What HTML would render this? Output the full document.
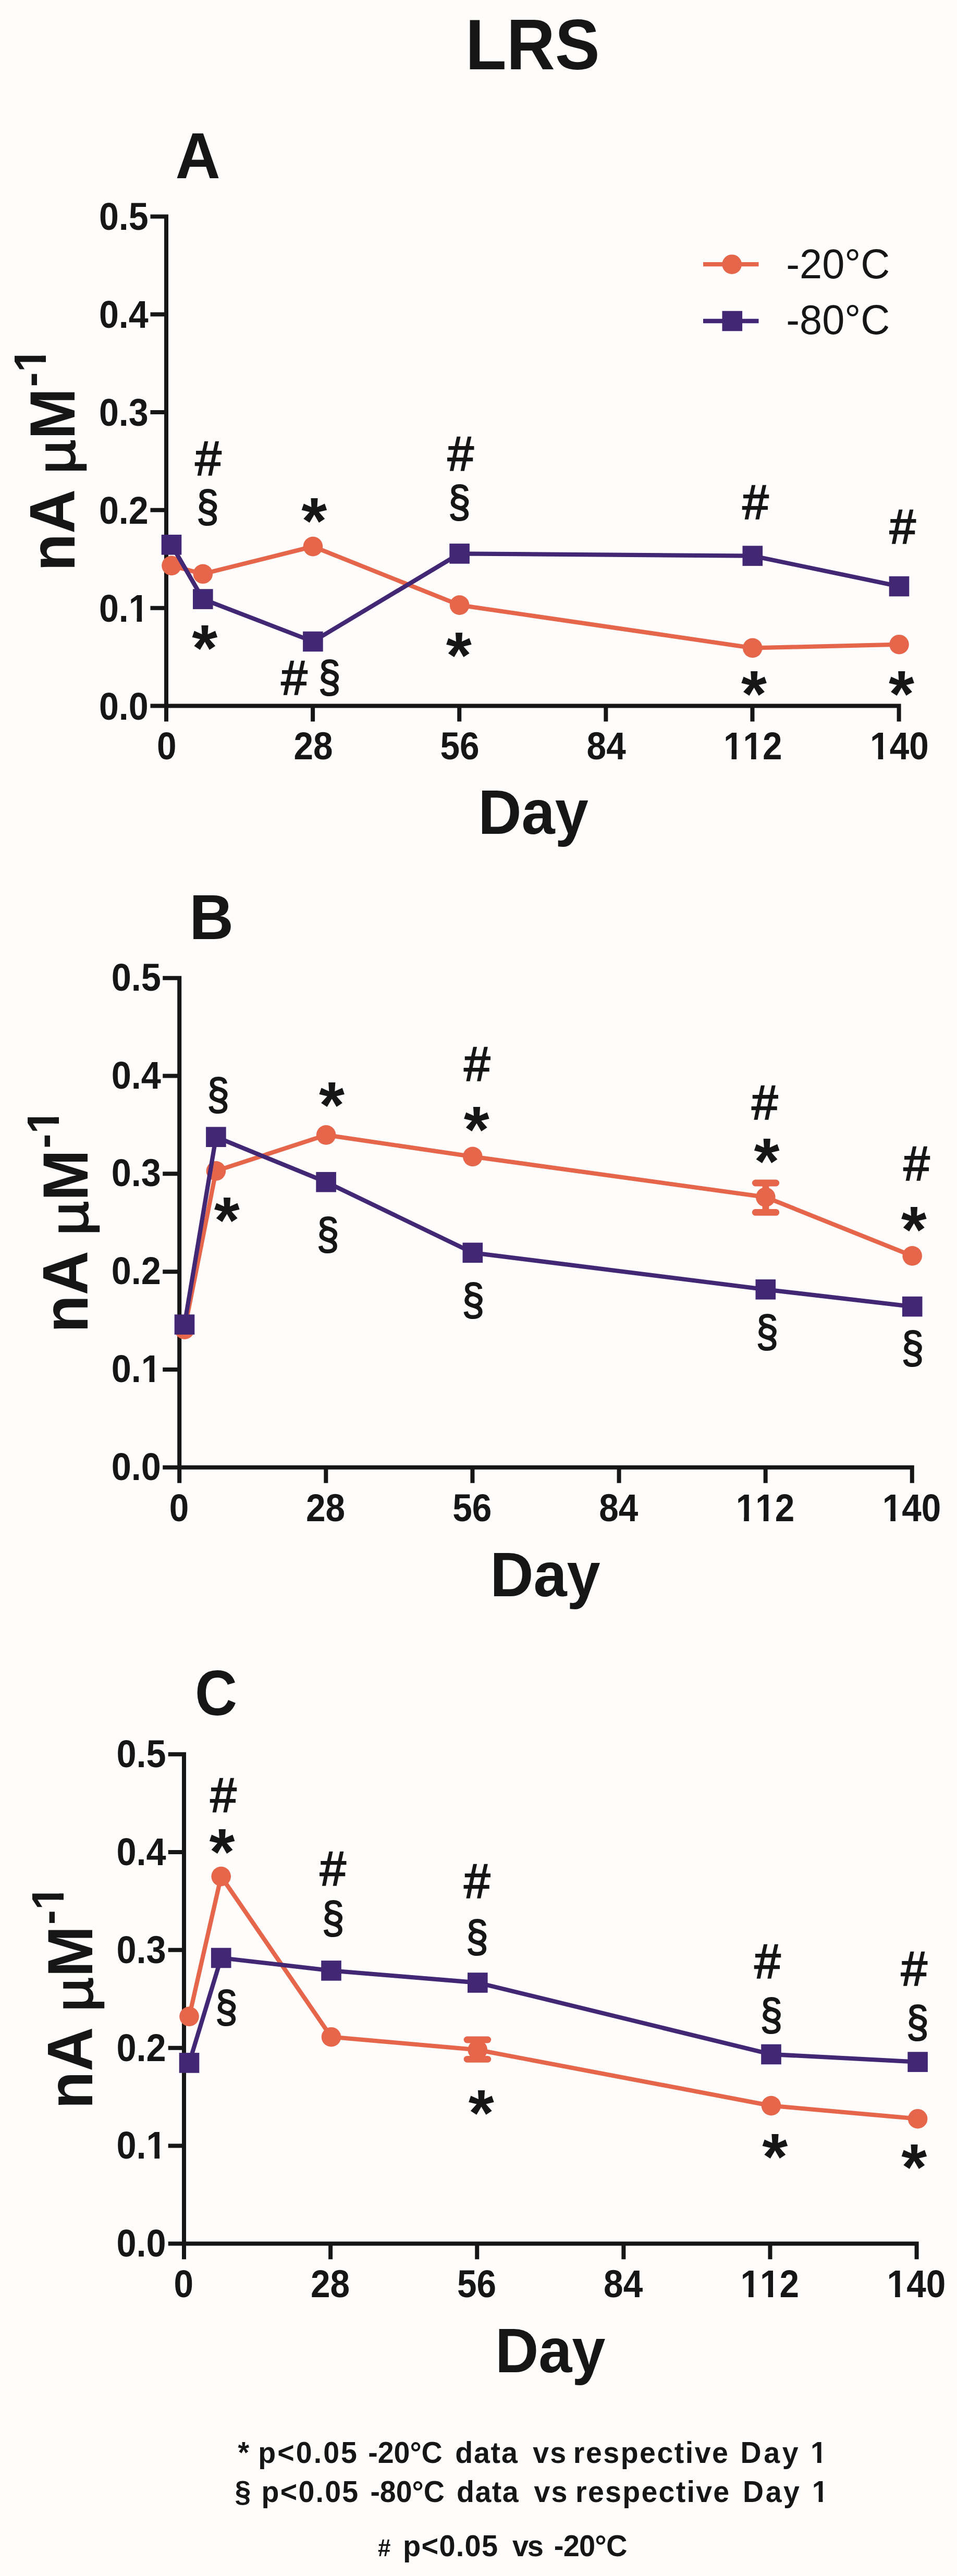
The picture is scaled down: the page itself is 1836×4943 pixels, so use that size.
<!DOCTYPE html>
<html><head><meta charset="utf-8"><title>LRS</title>
<style>html,body{margin:0;padding:0;background:#fefdfb;}svg{display:block;filter:blur(0.65px)}</style>
</head><body>
<svg width="1836" height="4943" viewBox="0 0 1836 4943" font-family='"Liberation Sans", sans-serif' font-weight="bold" text-anchor="middle" fill="#161616">
<rect width="1836" height="4943" fill="#fefdfb"/>
<text transform="translate(1021.8 133) scale(1.0 1.06)" font-size="128.8" >LRS</text>
<path d="M319 411.4V1384.5M288.5 1354.5H1728.6M288.5 1166.68H319M288.5 978.86H319M288.5 791.04H319M288.5 603.22H319M288.5 415.4H319M600.12 1354.5V1384.5M881.24 1354.5V1384.5M1162.36 1354.5V1384.5M1443.48 1354.5V1384.5M1724.6 1354.5V1384.5" stroke="#161616" stroke-width="8" fill="none"/>
<text transform="translate(284.7 1380.5) scale(1.0 1.09)" font-size="68.2" text-anchor="end" >0.0</text>
<text transform="translate(284.7 1192.68) scale(1.0 1.09)" font-size="68.2" text-anchor="end" >0.1</text>
<path d="M248.83 1184.28h13.67v10.41h-13.67zM272.15 1184.28h12.96v10.41h-12.96z" fill="#fefdfb"/>
<text transform="translate(284.7 1004.86) scale(1.0 1.09)" font-size="68.2" text-anchor="end" >0.2</text>
<text transform="translate(284.7 817.04) scale(1.0 1.09)" font-size="68.2" text-anchor="end" >0.3</text>
<text transform="translate(284.7 629.22) scale(1.0 1.09)" font-size="68.2" text-anchor="end" >0.4</text>
<text transform="translate(284.7 441.4) scale(1.0 1.09)" font-size="68.2" text-anchor="end" >0.5</text>
<text transform="translate(319.8 1457) scale(1.0 1.09)" font-size="67.5" style="font-kerning:none">0</text>
<text transform="translate(600.92 1457) scale(1.0 1.09)" font-size="67.5" style="font-kerning:none">28</text>
<text transform="translate(882.04 1457) scale(1.0 1.09)" font-size="67.5" style="font-kerning:none">56</text>
<text transform="translate(1163.16 1457) scale(1.0 1.09)" font-size="67.5" style="font-kerning:none">84</text>
<text transform="translate(1444.28 1457) scale(1.0 1.09)" font-size="67.5" style="font-kerning:none">112</text>
<path d="M1390.01 1448.69h13.53v10.3h-13.53zM1413.09 1448.69h12.82v10.3h-12.82z" fill="#fefdfb"/>
<path d="M1427.54 1448.69h13.53v10.3h-13.53zM1450.62 1448.69h12.82v10.3h-12.82z" fill="#fefdfb"/>
<text transform="translate(1725.4 1457) scale(1.0 1.09)" font-size="67.5" style="font-kerning:none">140</text>
<path d="M1671.13 1448.69h13.53v10.3h-13.53zM1694.21 1448.69h12.82v10.3h-12.82z" fill="#fefdfb"/>
<text transform="translate(1023 1599.5) scale(1.0 1.05)" font-size="115.3" >Day</text>
<text transform="translate(336.5 342.3) scale(1.0 1.035)" font-size="119.5" text-anchor="start" >A</text>
<g transform="translate(143 1096) rotate(-90) scale(1 1.035)" font-size="118" text-anchor="start"><text x="0" y="0">nA</text><text transform="translate(186.5 0) scale(0.97 0.85)" font-weight="normal" stroke="#161616" stroke-width="2.8">µ</text><text x="253" y="0">M</text><text x="353.5" y="-53" font-size="85">-1</text><path d="M385.2 -62.52h16.15v10.62h-16.15zM413.43 -62.52h15.3v10.62h-15.3z" fill="#fefdfb"/></g>
<path d="M329 1085.4L389.3 1101.3L600.4 1048.6L881.6 1161.1L1443.8 1243.4L1725 1236.7" stroke="#e5664b" stroke-width="8.3" fill="none" stroke-linejoin="round"/>
<circle cx="329" cy="1085.4" r="18.8" fill="#e5664b"/>
<circle cx="389.3" cy="1101.3" r="18.8" fill="#e5664b"/>
<circle cx="600.4" cy="1048.6" r="18.8" fill="#e5664b"/>
<circle cx="881.6" cy="1161.1" r="18.8" fill="#e5664b"/>
<circle cx="1443.8" cy="1243.4" r="18.8" fill="#e5664b"/>
<circle cx="1725" cy="1236.7" r="18.8" fill="#e5664b"/>
<path d="M329 1045.3L389.3 1149.6L600.4 1231L881.6 1062.4L1443.8 1066.6L1725 1125.1" stroke="#422874" stroke-width="8.3" fill="none" stroke-linejoin="round"/>
<rect x="309.7" y="1026" width="38.6" height="38.6" fill="#422874"/>
<rect x="370" y="1130.3" width="38.6" height="38.6" fill="#422874"/>
<rect x="581.1" y="1211.7" width="38.6" height="38.6" fill="#422874"/>
<rect x="862.3" y="1043.1" width="38.6" height="38.6" fill="#422874"/>
<rect x="1424.5" y="1047.3" width="38.6" height="38.6" fill="#422874"/>
<rect x="1705.7" y="1105.8" width="38.6" height="38.6" fill="#422874"/>
<text transform="translate(374.42 911.64) scale(1.0 1.02)" font-size="90" font-weight="normal" text-anchor="start" stroke="#161616" stroke-width="2.3">#</text>
<text transform="translate(377.1 1001) scale(0.9 1.0)" font-size="85.3" font-weight="normal" text-anchor="start" stroke="#161616" stroke-width="2.2">§</text>
<text x="578.23" y="1043.33" font-size="126" text-anchor="start" >*</text>
<text x="368.33" y="1286.93" font-size="126" text-anchor="start" >*</text>
<text transform="translate(539.62 1332.74) scale(1.0 1.02)" font-size="90" font-weight="normal" text-anchor="start" stroke="#161616" stroke-width="2.3">#</text>
<text transform="translate(610.7 1328) scale(0.9 1.0)" font-size="85.3" font-weight="normal" text-anchor="start" stroke="#161616" stroke-width="2.2">§</text>
<text transform="translate(858.73 902.64) scale(1.0 1.02)" font-size="90" font-weight="normal" text-anchor="start" stroke="#161616" stroke-width="2.3">#</text>
<text transform="translate(860.1 991.5) scale(0.9 1.0)" font-size="85.3" font-weight="normal" text-anchor="start" stroke="#161616" stroke-width="2.2">§</text>
<text x="855.63" y="1300.63" font-size="126" text-anchor="start" >*</text>
<text transform="translate(1424.62 996.24) scale(1.0 1.02)" font-size="90" font-weight="normal" text-anchor="start" stroke="#161616" stroke-width="2.3">#</text>
<text transform="translate(1706.73 1042.64) scale(1.0 1.02)" font-size="90" font-weight="normal" text-anchor="start" stroke="#161616" stroke-width="2.3">#</text>
<text x="1421.93" y="1375.13" font-size="126" text-anchor="start" >*</text>
<text x="1705.03" y="1375.13" font-size="126" text-anchor="start" >*</text>
<path d="M344.2 1872.7V2845.8M312.2 2815.8H1753.8M312.2 2627.98H344.2M312.2 2440.16H344.2M312.2 2252.34H344.2M312.2 2064.52H344.2M312.2 1876.7H344.2M625.32 2815.8V2845.8M906.44 2815.8V2845.8M1187.56 2815.8V2845.8M1468.68 2815.8V2845.8M1749.8 2815.8V2845.8" stroke="#161616" stroke-width="8" fill="none"/>
<text transform="translate(308.9 2839.8) scale(1.0 1.09)" font-size="68.5" text-anchor="end" >0.0</text>
<text transform="translate(308.9 2651.98) scale(1.0 1.09)" font-size="68.5" text-anchor="end" >0.1</text>
<path d="M272.87 2643.54h13.73v10.45h-13.73zM296.3 2643.54h13.02v10.45h-13.02z" fill="#fefdfb"/>
<text transform="translate(308.9 2464.16) scale(1.0 1.09)" font-size="68.5" text-anchor="end" >0.2</text>
<text transform="translate(308.9 2276.34) scale(1.0 1.09)" font-size="68.5" text-anchor="end" >0.3</text>
<text transform="translate(308.9 2088.52) scale(1.0 1.09)" font-size="68.5" text-anchor="end" >0.4</text>
<text transform="translate(308.9 1900.7) scale(1.0 1.09)" font-size="68.5" text-anchor="end" >0.5</text>
<text transform="translate(343.5 2919.3) scale(1.0 1.09)" font-size="67.5" style="font-kerning:none">0</text>
<text transform="translate(624.62 2919.3) scale(1.0 1.09)" font-size="67.5" style="font-kerning:none">28</text>
<text transform="translate(905.74 2919.3) scale(1.0 1.09)" font-size="67.5" style="font-kerning:none">56</text>
<text transform="translate(1186.86 2919.3) scale(1.0 1.09)" font-size="67.5" style="font-kerning:none">84</text>
<text transform="translate(1467.98 2919.3) scale(1.0 1.09)" font-size="67.5" style="font-kerning:none">112</text>
<path d="M1413.71 2910.99h13.53v10.3h-13.53zM1436.79 2910.99h12.82v10.3h-12.82z" fill="#fefdfb"/>
<path d="M1451.24 2910.99h13.53v10.3h-13.53zM1474.32 2910.99h12.82v10.3h-12.82z" fill="#fefdfb"/>
<text transform="translate(1749.1 2919.3) scale(1.0 1.09)" font-size="67.5" style="font-kerning:none">140</text>
<path d="M1694.83 2910.99h13.53v10.3h-13.53zM1717.91 2910.99h12.82v10.3h-12.82z" fill="#fefdfb"/>
<text transform="translate(1045.9 3062.8) scale(1.0 1.05)" font-size="115.3" >Day</text>
<text transform="translate(363.2 1802.3) scale(1.0 1.035)" font-size="117.5" text-anchor="start" >B</text>
<g transform="translate(168.2 2557.3) rotate(-90) scale(1 1.035)" font-size="118" text-anchor="start"><text x="0" y="0">nA</text><text transform="translate(186.5 0) scale(0.97 0.85)" font-weight="normal" stroke="#161616" stroke-width="2.8">µ</text><text x="253" y="0">M</text><text x="353.5" y="-53" font-size="85">-1</text><path d="M385.2 -62.52h16.15v10.62h-16.15zM413.43 -62.52h15.3v10.62h-15.3z" fill="#fefdfb"/></g>
<path d="M354 2551.2L414.4 2246.9L625.6 2177.9L906.8 2219.4L1468.8 2297.1L1750.2 2409.9" stroke="#e5664b" stroke-width="8.3" fill="none" stroke-linejoin="round"/>
<path d="M1469 2270V2326.4M1449.25 2270H1488.75M1449.25 2326.4H1488.75" stroke="#e5664b" stroke-width="12.8" stroke-linecap="round" fill="none"/>
<circle cx="354" cy="2551.2" r="18.8" fill="#e5664b"/>
<circle cx="414.4" cy="2246.9" r="18.8" fill="#e5664b"/>
<circle cx="625.6" cy="2177.9" r="18.8" fill="#e5664b"/>
<circle cx="906.8" cy="2219.4" r="18.8" fill="#e5664b"/>
<circle cx="1468.8" cy="2297.1" r="18.8" fill="#e5664b"/>
<circle cx="1750.2" cy="2409.9" r="18.8" fill="#e5664b"/>
<path d="M354 2541.6L414.4 2181.7L625.6 2268.2L906.8 2403.8L1468.8 2474.3L1750.2 2507.1" stroke="#422874" stroke-width="8.3" fill="none" stroke-linejoin="round"/>
<rect x="334.7" y="2522.3" width="38.6" height="38.6" fill="#422874"/>
<rect x="395.1" y="2162.4" width="38.6" height="38.6" fill="#422874"/>
<rect x="606.3" y="2248.9" width="38.6" height="38.6" fill="#422874"/>
<rect x="887.5" y="2384.5" width="38.6" height="38.6" fill="#422874"/>
<rect x="1449.5" y="2455" width="38.6" height="38.6" fill="#422874"/>
<rect x="1730.9" y="2487.8" width="38.6" height="38.6" fill="#422874"/>
<text transform="translate(397.2 2128.9) scale(0.9 1.0)" font-size="85.3" font-weight="normal" text-anchor="start" stroke="#161616" stroke-width="2.2">§</text>
<text x="611.93" y="2164.43" font-size="126" text-anchor="start" >*</text>
<text x="410.63" y="2384.73" font-size="126" text-anchor="start" >*</text>
<text transform="translate(607.7 2396.5) scale(0.9 1.0)" font-size="85.3" font-weight="normal" text-anchor="start" stroke="#161616" stroke-width="2.2">§</text>
<text transform="translate(890.23 2074.24) scale(1.0 1.02)" font-size="90" font-weight="normal" text-anchor="start" stroke="#161616" stroke-width="2.3">#</text>
<text x="889.83" y="2210.73" font-size="126" text-anchor="start" >*</text>
<text transform="translate(886.4 2522.6) scale(0.9 1.0)" font-size="85.3" font-weight="normal" text-anchor="start" stroke="#161616" stroke-width="2.2">§</text>
<text transform="translate(1442.33 2147.74) scale(1.0 1.02)" font-size="90" font-weight="normal" text-anchor="start" stroke="#161616" stroke-width="2.3">#</text>
<text x="1446.43" y="2272.33" font-size="126" text-anchor="start" >*</text>
<text transform="translate(1733.43 2264.74) scale(1.0 1.02)" font-size="90" font-weight="normal" text-anchor="start" stroke="#161616" stroke-width="2.3">#</text>
<text x="1728.83" y="2402.93" font-size="126" text-anchor="start" >*</text>
<text transform="translate(1450.6 2583.5) scale(0.9 1.0)" font-size="85.3" font-weight="normal" text-anchor="start" stroke="#161616" stroke-width="2.2">§</text>
<text transform="translate(1729.6 2614.9) scale(0.9 1.0)" font-size="85.3" font-weight="normal" text-anchor="start" stroke="#161616" stroke-width="2.2">§</text>
<path d="M353 3362.2V4335.3M322.7 4305.3H1762.6M322.7 4117.48H353M322.7 3929.66H353M322.7 3741.84H353M322.7 3554.02H353M322.7 3366.2H353M634.12 4305.3V4335.3M915.24 4305.3V4335.3M1196.36 4305.3V4335.3M1477.48 4305.3V4335.3M1758.6 4305.3V4335.3" stroke="#161616" stroke-width="8" fill="none"/>
<text transform="translate(318.7 4330.3) scale(1.0 1.09)" font-size="68.5" text-anchor="end" >0.0</text>
<text transform="translate(318.7 4142.48) scale(1.0 1.09)" font-size="68.5" text-anchor="end" >0.1</text>
<path d="M282.67 4134.04h13.73v10.45h-13.73zM306.1 4134.04h13.02v10.45h-13.02z" fill="#fefdfb"/>
<text transform="translate(318.7 3954.66) scale(1.0 1.09)" font-size="68.5" text-anchor="end" >0.2</text>
<text transform="translate(318.7 3766.84) scale(1.0 1.09)" font-size="68.5" text-anchor="end" >0.3</text>
<text transform="translate(318.7 3579.02) scale(1.0 1.09)" font-size="68.5" text-anchor="end" >0.4</text>
<text transform="translate(318.7 3391.2) scale(1.0 1.09)" font-size="68.5" text-anchor="end" >0.5</text>
<text transform="translate(352.3 4407.8) scale(1.0 1.09)" font-size="67.5" style="font-kerning:none">0</text>
<text transform="translate(633.42 4407.8) scale(1.0 1.09)" font-size="67.5" style="font-kerning:none">28</text>
<text transform="translate(914.54 4407.8) scale(1.0 1.09)" font-size="67.5" style="font-kerning:none">56</text>
<text transform="translate(1195.66 4407.8) scale(1.0 1.09)" font-size="67.5" style="font-kerning:none">84</text>
<text transform="translate(1476.78 4407.8) scale(1.0 1.09)" font-size="67.5" style="font-kerning:none">112</text>
<path d="M1422.51 4399.49h13.53v10.3h-13.53zM1445.59 4399.49h12.82v10.3h-12.82z" fill="#fefdfb"/>
<path d="M1460.04 4399.49h13.53v10.3h-13.53zM1483.12 4399.49h12.82v10.3h-12.82z" fill="#fefdfb"/>
<text transform="translate(1757.9 4407.8) scale(1.0 1.09)" font-size="67.5" style="font-kerning:none">140</text>
<path d="M1703.63 4399.49h13.53v10.3h-13.53zM1726.71 4399.49h12.82v10.3h-12.82z" fill="#fefdfb"/>
<text transform="translate(1055.7 4552.3) scale(1.0 1.05)" font-size="115.3" >Day</text>
<text transform="translate(374 3291.2) scale(0.955 1.035)" font-size="117.5" text-anchor="start" >C</text>
<g transform="translate(177 4046.8) rotate(-90) scale(1 1.035)" font-size="118" text-anchor="start"><text x="0" y="0">nA</text><text transform="translate(186.5 0) scale(0.97 0.85)" font-weight="normal" stroke="#161616" stroke-width="2.8">µ</text><text x="253" y="0">M</text><text x="353.5" y="-53" font-size="85">-1</text><path d="M385.2 -62.52h16.15v10.62h-16.15zM413.43 -62.52h15.3v10.62h-15.3z" fill="#fefdfb"/></g>
<path d="M363 3869.4L424.2 3600.6L635.5 3908.7L916.3 3933.4L1479.5 4040.6L1760.6 4065.7" stroke="#e5664b" stroke-width="8.3" fill="none" stroke-linejoin="round"/>
<path d="M915.9 3914V3951.3M896 3914H935.8M896 3951.3H935.8" stroke="#e5664b" stroke-width="12.8" stroke-linecap="round" fill="none"/>
<circle cx="363" cy="3869.4" r="18.8" fill="#e5664b"/>
<circle cx="424.2" cy="3600.6" r="18.8" fill="#e5664b"/>
<circle cx="635.5" cy="3908.7" r="18.8" fill="#e5664b"/>
<circle cx="916.3" cy="3933.4" r="18.8" fill="#e5664b"/>
<circle cx="1479.5" cy="4040.6" r="18.8" fill="#e5664b"/>
<circle cx="1760.6" cy="4065.7" r="18.8" fill="#e5664b"/>
<path d="M363 3958.4L424.2 3757L635.5 3781.4L916.3 3804.5L1479.5 3942L1760.6 3956.6" stroke="#422874" stroke-width="8.3" fill="none" stroke-linejoin="round"/>
<rect x="343.7" y="3939.1" width="38.6" height="38.6" fill="#422874"/>
<rect x="404.9" y="3737.7" width="38.6" height="38.6" fill="#422874"/>
<rect x="616.2" y="3762.1" width="38.6" height="38.6" fill="#422874"/>
<rect x="897" y="3785.2" width="38.6" height="38.6" fill="#422874"/>
<rect x="1460.2" y="3922.7" width="38.6" height="38.6" fill="#422874"/>
<rect x="1741.3" y="3937.3" width="38.6" height="38.6" fill="#422874"/>
<text transform="translate(403.52 3477.44) scale(1.0 1.02)" font-size="90" font-weight="normal" text-anchor="start" stroke="#161616" stroke-width="2.3">#</text>
<text x="401.43" y="3596.53" font-size="126" text-anchor="start" >*</text>
<text transform="translate(613.73 3618.44) scale(1.0 1.02)" font-size="90" font-weight="normal" text-anchor="start" stroke="#161616" stroke-width="2.3">#</text>
<text transform="translate(617.7 3709.4) scale(0.9 1.0)" font-size="85.3" font-weight="normal" text-anchor="start" stroke="#161616" stroke-width="2.2">§</text>
<text transform="translate(412.9 3880.4) scale(0.9 1.0)" font-size="85.3" font-weight="normal" text-anchor="start" stroke="#161616" stroke-width="2.2">§</text>
<text transform="translate(890.23 3641.54) scale(1.0 1.02)" font-size="90" font-weight="normal" text-anchor="start" stroke="#161616" stroke-width="2.3">#</text>
<text transform="translate(893.9 3744.6) scale(0.9 1.0)" font-size="85.3" font-weight="normal" text-anchor="start" stroke="#161616" stroke-width="2.2">§</text>
<text x="898.63" y="4098.23" font-size="126" text-anchor="start" >*</text>
<text transform="translate(1447.53 3795.64) scale(1.0 1.02)" font-size="90" font-weight="normal" text-anchor="start" stroke="#161616" stroke-width="2.3">#</text>
<text transform="translate(1458.5 3894.5) scale(0.9 1.0)" font-size="85.3" font-weight="normal" text-anchor="start" stroke="#161616" stroke-width="2.2">§</text>
<text transform="translate(1728.83 3809.84) scale(1.0 1.02)" font-size="90" font-weight="normal" text-anchor="start" stroke="#161616" stroke-width="2.3">#</text>
<text transform="translate(1739 3908.7) scale(0.9 1.0)" font-size="85.3" font-weight="normal" text-anchor="start" stroke="#161616" stroke-width="2.2">§</text>
<text x="1462.13" y="4181.63" font-size="126" text-anchor="start" >*</text>
<text x="1729.23" y="4201.63" font-size="126" text-anchor="start" >*</text>
<path d="M1349 507.2H1455.5" stroke="#e5664b" stroke-width="8.3"/><circle cx="1404.2" cy="507.2" r="18.8" fill="#e5664b"/>
<path d="M1349 616H1455.5" stroke="#422874" stroke-width="8.3"/><rect x="1385.5" y="596.7" width="38.6" height="38.6" fill="#422874"/>
<text transform="translate(1508.3 533.5) scale(1.0 1.03)" font-size="77.5" font-weight="normal" text-anchor="start" >-20°C</text>
<text transform="translate(1508.3 641) scale(1.0 1.03)" font-size="77.5" font-weight="normal" text-anchor="start" >-80°C</text>
<text transform="translate(0 4726) scale(1 1.04)" font-size="55.5" text-anchor="start" xml:space="preserve"><tspan x="456.6">* </tspan><tspan x="495.2" letter-spacing="3.1">p&lt;0.05 </tspan><tspan x="706.2">-20°C </tspan><tspan x="873.2" letter-spacing="1.83">data </tspan><tspan x="1022.2" letter-spacing="2.2">vs </tspan><tspan x="1099.8" letter-spacing="2.51">respective </tspan><tspan x="1420.4" letter-spacing="4.75">Day </tspan><tspan x="1555">1</tspan></text>
<text transform="translate(0 4800.5) scale(1 1.04)" font-size="55.5" text-anchor="start" xml:space="preserve"><tspan x="450.4">§ </tspan><tspan x="501.6" letter-spacing="2.26">p&lt;0.05 </tspan><tspan x="710.4">-80°C </tspan><tspan x="876" letter-spacing="1.53">data </tspan><tspan x="1024.4" letter-spacing="2.2">vs </tspan><tspan x="1104" letter-spacing="2.3">respective </tspan><tspan x="1425" letter-spacing="3.6">Day </tspan><tspan x="1557.8">1</tspan></text>
<text transform="translate(0 4904.5) scale(1 1.04)" font-size="56" text-anchor="start" xml:space="preserve"><tspan x="725" font-size="44"># </tspan><tspan x="773" letter-spacing="1.24">p&lt;0.05 </tspan><tspan x="983" letter-spacing="-2.3">vs </tspan><tspan x="1062.8" letter-spacing="-0.8">-20°C</tspan></text>
<path d="M1556.66 4719.48h11.13v8.08h-11.13zM1575.65 4719.48h10.54v8.08h-10.54z" fill="#fefdfb"/>
<path d="M1559.46 4793.98h11.13v8.08h-11.13zM1578.45 4793.98h10.54v8.08h-10.54z" fill="#fefdfb"/>
</svg>
</body></html>
